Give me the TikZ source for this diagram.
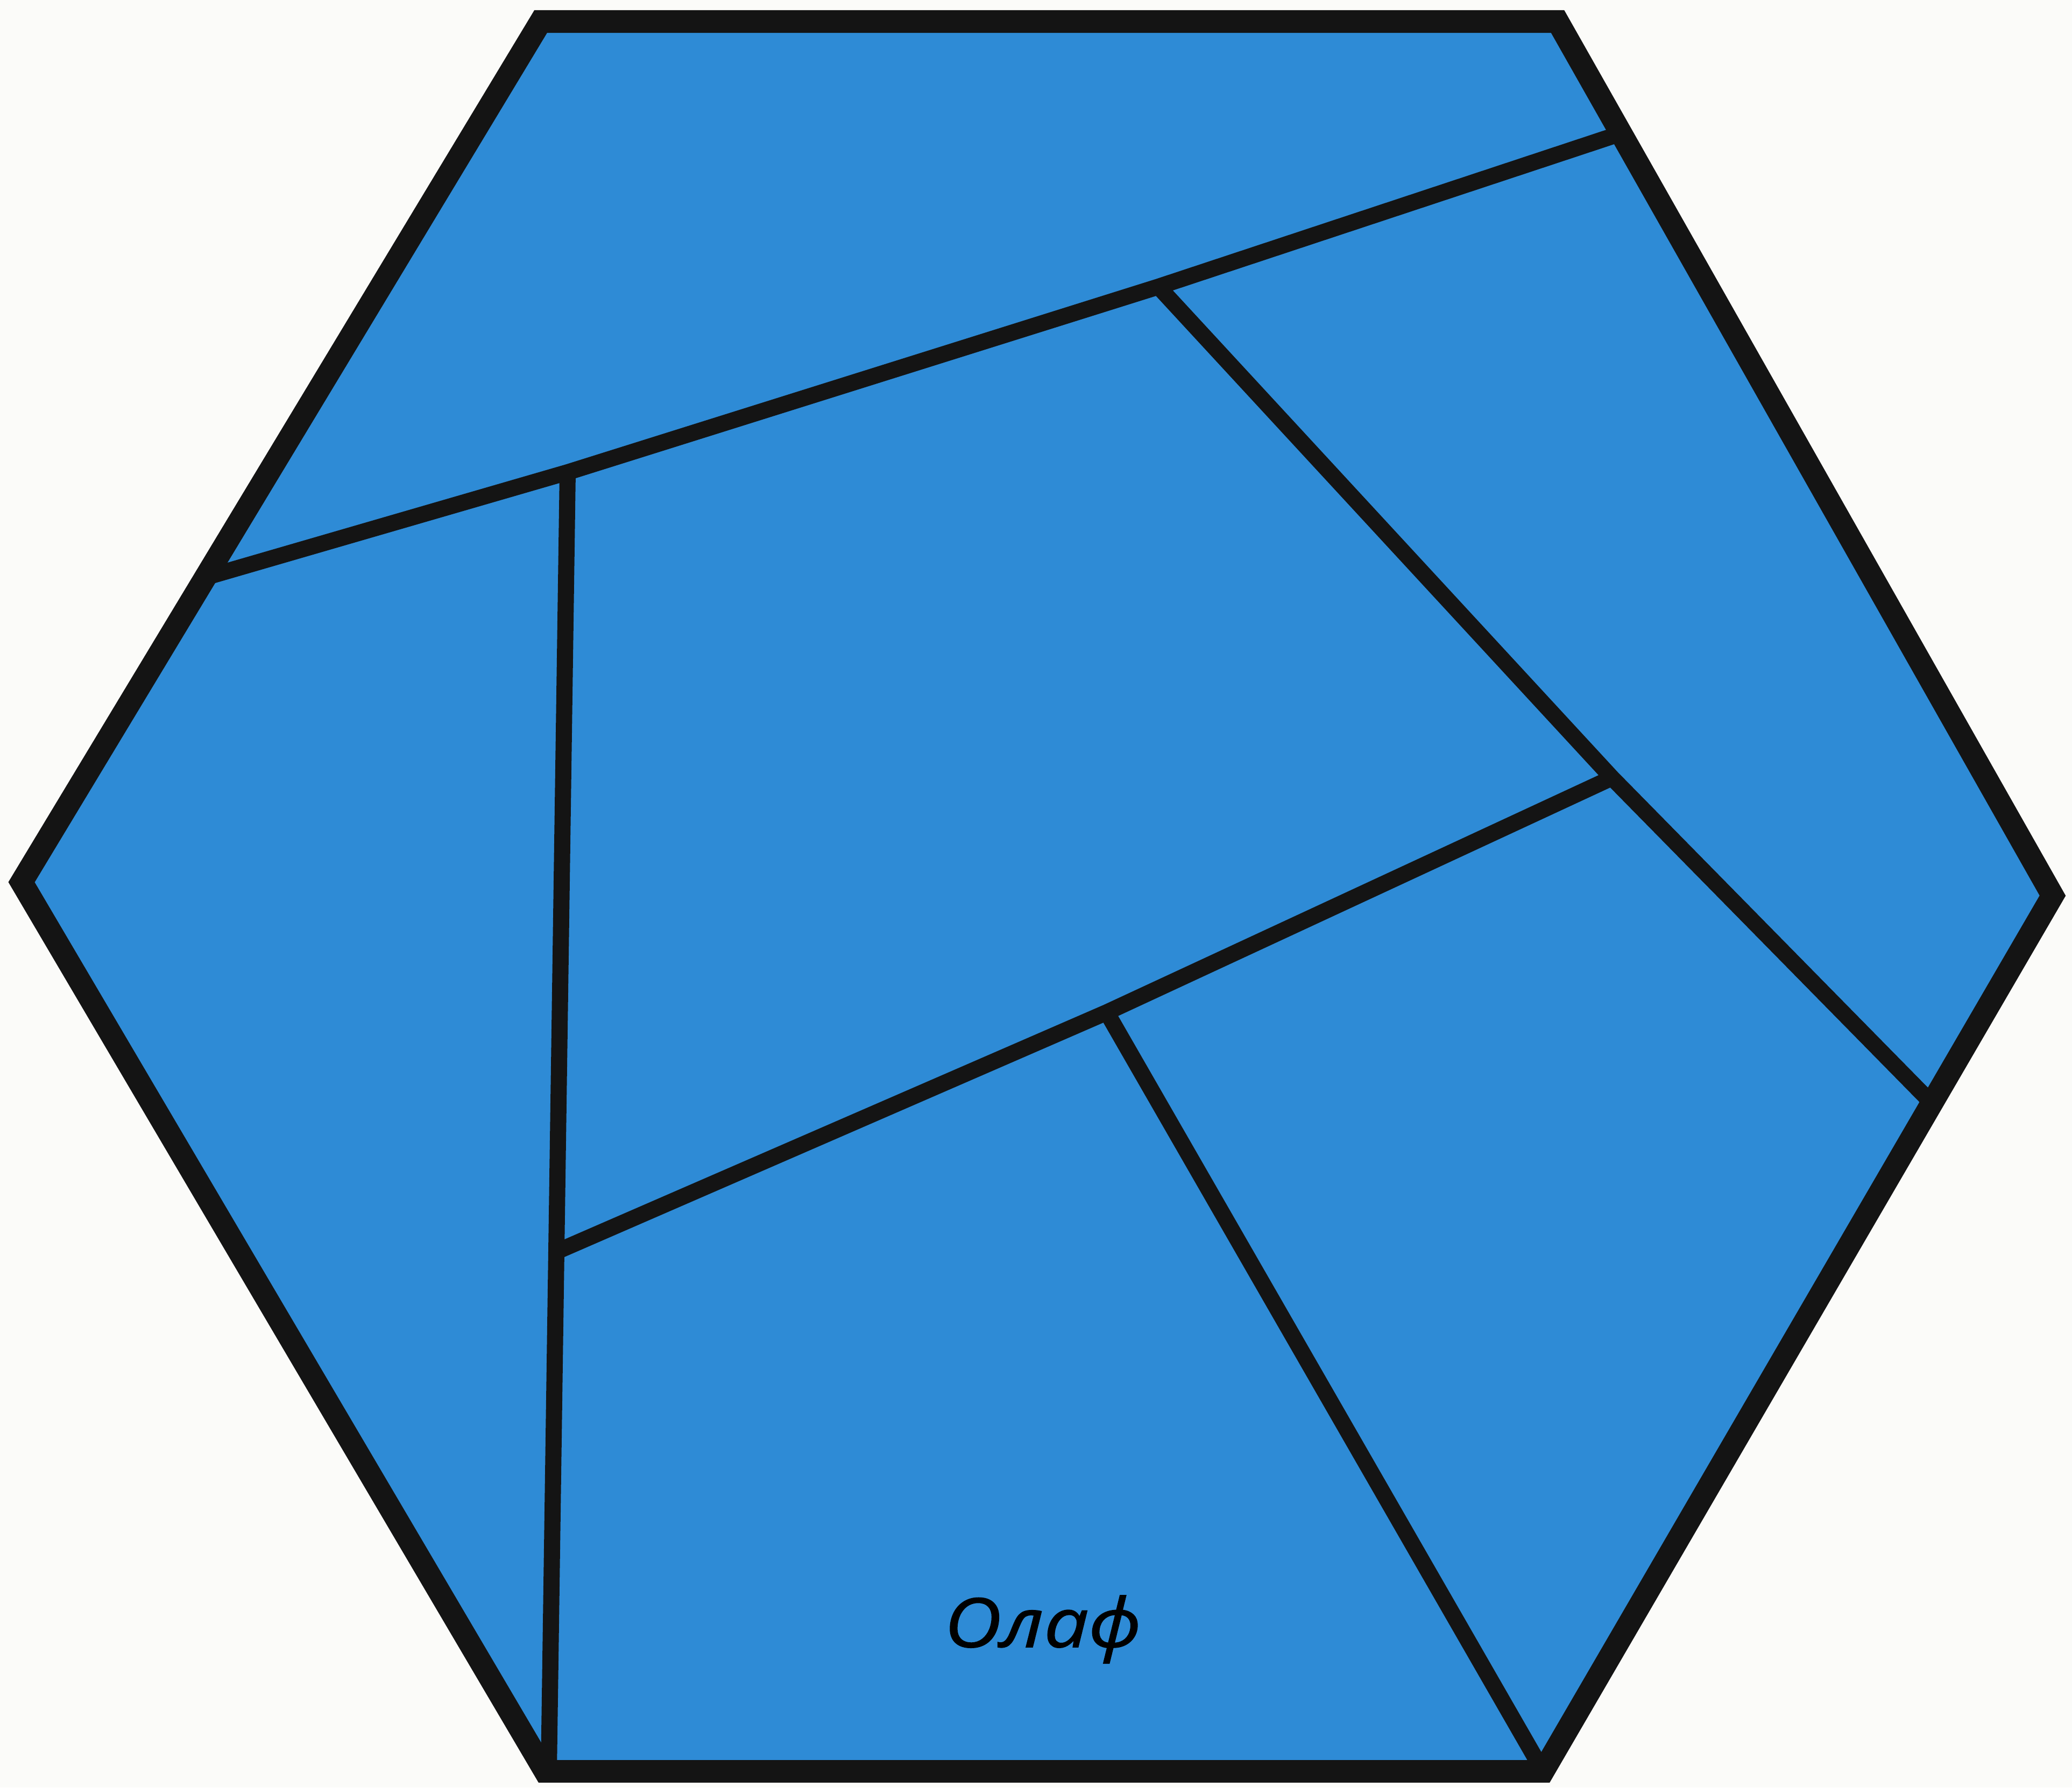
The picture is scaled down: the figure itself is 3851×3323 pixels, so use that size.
\documentclass[tikz,border=0pt]{standalone}
\usepackage{fontspec}
\usetikzlibrary{calc}
\newfontfamily\olafFont{Open Sans}[ItalicFeatures={FakeBold=1.2,FakeStretch=1.16}]
\definecolor{tileBlue}{RGB}{46,139,214}
\definecolor{paperWhite}{RGB}{251,251,249}
\tikzset{
  tileEdge/.style={line width=0.42cm, line join=miter, draw=black!92},
  cutLine/.style={line width=0.3cm, line join=miter, line cap=butt, draw=black!92},
  nameLabel/.style={anchor=base, inner sep=0pt, font=\olafFont\itshape\fontsize{36}{40}\selectfont},
}
\begin{document}
\begin{tikzpicture}[x=0.01cm,y=-0.01cm]
\fill[paperWhite] (0,0) rectangle (3851,3323);
\useasboundingbox (0,0) rectangle (3851,3323);
\coordinate (TL) at (1005,40);
\coordinate (TR) at (2895,40);
\coordinate (R) at (3815,1665);
\coordinate (BR) at (2868,3293);
\coordinate (BL) at (1013,3293);
\coordinate (L) at (40,1640);
\coordinate (A1) at ($(L)!0.354!(TL)$);
\coordinate (A2) at ($(TR)!0.128!(R)$);
\coordinate (B1) at (1055,878);
\coordinate (C1) at (2153,533);
\coordinate (B2) at (1020,3293);
\coordinate (C2) at ($(R)!0.237!(BR)$);
\coordinate (D1) at (1034,2327);
\coordinate (D2) at (2996,1446);
\coordinate (E1) at (2057,1882);
\fill[tileBlue] (TL) -- (TR) -- (R) -- (BR) -- (BL) -- (L) -- cycle;
\draw[cutLine] (A1) -- (B1) -- (C1) -- (A2);
\draw[cutLine] (B1) -- (D1) -- (B2);
\draw[cutLine] (C1) -- (D2) -- (C2);
\draw[cutLine] (D1) -- (E1) -- (D2);
\draw[cutLine] (E1) -- (BR);
\draw[tileEdge] (TL) -- (TR) -- (R) -- (BR) -- (BL) -- (L) -- cycle;
\node[nameLabel] (olaf) at (1938,3062) {Олаф};
\end{tikzpicture}
\end{document}
